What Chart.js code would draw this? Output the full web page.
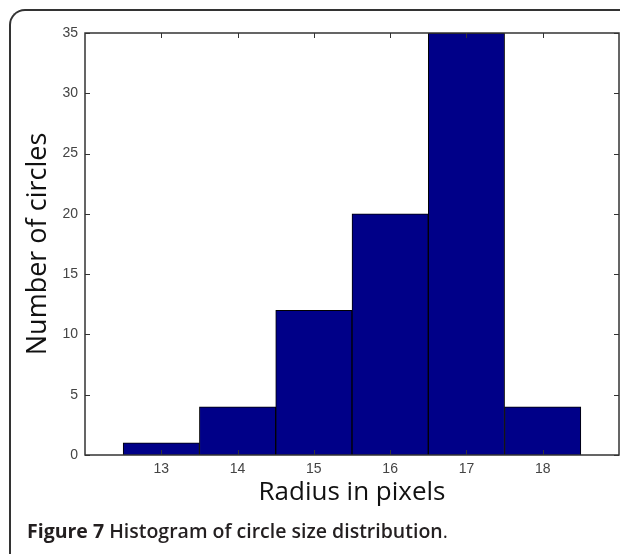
<!DOCTYPE html>
<html lang="en">
<head>
    <meta charset="UTF-8">
    <title>Histogram of circle size distribution</title>
    <style>
        body {
            margin: 0;
            background: #fff;
            width: 620px;
            height: 554px;
            overflow: hidden;
            position: relative;
        }

        .frame {
            position: absolute;
            left: 9px;
            top: 9px;
            width: 640px;
            height: 560px;
            border-top: 2px solid #333;
            border-left: 2px solid #333;
            border-top-left-radius: 16px;
        }

        .chart-box {
            position: absolute;
            left: 0;
            top: 0;
            width: 620px;
            height: 554px;
        }

        .caption {
            position: absolute;
            left: 27px;
            top: 520px;
            font-family: "Open Sans", sans-serif;
            font-size: 19.5px;
            line-height: 22px;
            font-weight: 600;
            color: #231f20;
            white-space: nowrap;
        }

        .caption b {
            font-weight: 700;
        }
    </style>
</head>
<body>
    <div class="frame"></div>
    <div class="chart-box">
        <canvas id="histChart" width="620" height="554"></canvas>
    </div>
    <div class="caption"><b>Figure 7</b> Histogram of circle size distribution<span style="font-weight:400">.</span></div>

    <script src="https://cdn.jsdelivr.net/npm/chart.js@4.4.0/dist/chart.umd.min.js"></script>
    <script>
    // histogram data: radius bins and counts
    const radii = [13, 14, 15, 16, 17, 18];
    const counts = [1, 4, 12, 20, 35, 4];
    const yTicks = [0, 5, 10, 15, 20, 25, 30, 35];

    // MATLAB style: box around plot, ticks pointing inward on all four sides
    const boxTicks = {
        id: 'boxTicks',
        afterDatasetsDraw(chart) {
            const ctx = chart.ctx;
            const a = chart.chartArea;
            const xs = chart.scales.x, ys = chart.scales.y;
            const len = 5;
            ctx.save();
            ctx.strokeStyle = '#333';
            ctx.lineWidth = 1;
            ctx.beginPath();
            radii.forEach(v => {
                const px = Math.round(xs.getPixelForValue(v)) + 0.5;
                ctx.moveTo(px, a.bottom); ctx.lineTo(px, a.bottom - len);
                ctx.moveTo(px, a.top); ctx.lineTo(px, a.top + len);
            });
            yTicks.forEach(v => {
                const py = Math.round(ys.getPixelForValue(v)) + 0.5;
                ctx.moveTo(a.left, py); ctx.lineTo(a.left + len, py);
                ctx.moveTo(a.right, py); ctx.lineTo(a.right - len, py);
            });
            ctx.stroke();
            ctx.lineWidth = 1.5;
            ctx.strokeRect(a.left, a.top, a.right - a.left, a.bottom - a.top);
            ctx.restore();
        }
    };

    const tickFont = { family: 'Arial, "Liberation Sans", sans-serif', size: 14 };
    const titleFont = { family: '"Open Sans", sans-serif', size: 26 };

    new Chart(document.getElementById('histChart').getContext('2d'), {
        type: 'bar',
        data: {
            datasets: [{
                data: radii.map((r, i) => ({ x: r, y: counts[i] })),
                backgroundColor: '#000088',
                borderColor: '#000000',
                borderWidth: 1,
                barPercentage: 1,
                categoryPercentage: 1
            }]
        },
        options: {
            responsive: false,
            animation: false,
            layout: { padding: { left: 0, top: 33, right: 1, bottom: 40 } },
            plugins: { legend: { display: false }, tooltip: { enabled: false } },
            scales: {
                x: {
                    type: 'linear',
                    min: 12,
                    max: 19,
                    offset: false,
                    grid: { display: false, drawTicks: false },
                    border: { display: false },
                    ticks: {
                        stepSize: 1,
                        padding: 6,
                        color: '#444',
                        font: tickFont,
                        callback: v => radii.includes(v) ? String(v) : ''
                    },
                    title: {
                        display: true,
                        text: 'Radius in pixels',
                        color: '#111',
                        font: titleFont,
                        padding: { top: 0, bottom: 6 }
                    },
                    afterFit: s => { s.height = 59; s.paddingRight = 0; }
                },
                y: {
                    min: 0,
                    max: 35,
                    grid: { display: false, drawTicks: false },
                    border: { display: false },
                    ticks: {
                        stepSize: 5,
                        padding: 7,
                        color: '#444',
                        font: tickFont
                    },
                    title: {
                        display: true,
                        text: 'Number of circles',
                        color: '#111',
                        font: { family: '"Open Sans", sans-serif', size: 27 },
                        padding: { top: 22, bottom: 0 }
                    },
                    afterFit: s => { s.width = 85; s.paddingTop = 0; s.paddingBottom = 0; }
                }
            }
        },
        plugins: [boxTicks]
    });
    </script>
</body>
</html>
